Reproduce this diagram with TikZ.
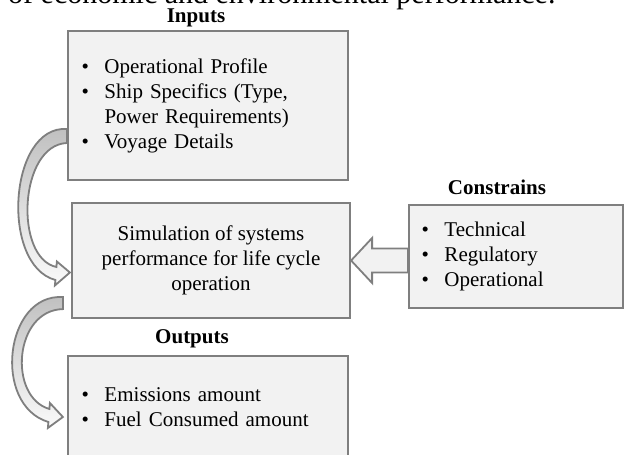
\documentclass[tikz,border=0pt]{standalone}
\usepackage{fontspec}
\setmainfont{Liberation Serif}
\usepackage{xcolor}
\usepackage{tikz}
\usetikzlibrary{positioning,calc,backgrounds}
\definecolor{gris}{HTML}{7F7F7F}
\definecolor{grisclaro}{HTML}{F2F2F2}
\definecolor{grismedio}{HTML}{BFBFBF}
\newcommand{\itm}{\makebox[23pt][l]{\textbullet}}
\newcommand{\sangria}{\hspace*{23pt}}
\tikzset{
  caja/.style={draw=gris,fill=grisclaro,line width=2.2pt,font=\fontsize{21}{25}\selectfont,inner xsep=13.5pt,inner ysep=4pt},
  lista/.style={caja,align=left},
  titulo/.style={font=\fontsize{21}{25}\selectfont\bfseries,inner sep=0pt},
  flechacurva/.style={draw=gris,line width=1.8pt,line join=miter,top color=grismedio,bottom color=grisclaro!40},
  flechabloque/.style={draw=gris,line width=1.8pt,fill=grisclaro},
}

\begin{document}
\begin{tikzpicture}[x=1pt,y=-1pt]
  \useasboundingbox (0,0) rectangle (627,455);
  \clip (0,0) rectangle (627,455);
  % texto cortado arriba
  \node[anchor=base west,inner sep=0pt,font=\fontsize{30}{36}\selectfont] (arriba) at (8,4) {of economic and environmental performance.};
  % cajas
  \node[lista,minimum width=280pt,minimum height=149pt,text width=253pt] (inp) at (208,105.5) {\itm Operational Profile\\ \itm Ship Specifics (Type,\\ \sangria Power Requirements)\\ \itm Voyage Details};
  \node[caja,align=center,minimum width=278pt,minimum height=115pt] (sim) at (211,260.5) {Simulation of systems\\performance for life cycle\\operation};
  \node[lista,minimum width=214pt,minimum height=103pt,text width=189pt,inner xsep=12.5pt] (con) at (516,256.5) {\itm Technical\\ \itm Regulatory\\ \itm Operational};
  \node[lista,minimum width=280pt,minimum height=102pt,text width=253pt] (out) at (208,407) {\itm Emissions amount\\ \itm Fuel Consumed amount};
  % titulos
  \node[titulo] (tinp) at (196,18) {Inputs};
  \node[titulo] (tcon) at (497,187) {Constrains};
  \node[titulo] (tout) at (192,339) {Outputs};
  % flechas
  \begin{scope}[on background layer]
    \coordinate (a1o) at ($(inp.west)+(0,23.5)$);
    \coordinate (a1i) at ($(inp.west)+(0,37.5)$);
    \coordinate (a1t) at ($(sim.west)+(-1,12)$);
    \path[flechacurva] (a1o) .. controls +(-58,-4) and +(-55.5,-15) .. ($(a1t)+(-14.5,7.5)$) -- ++(-0.5,5.5) -- (a1t) -- ($(a1t)+(-13,-11)$) -- ++(-0.5,5.5) .. controls +(-42.5,-9) and +(-48,2) .. (a1i) -- cycle;
    \coordinate (a2o) at ($(sim.south west)+(-8,-22)$);
    \coordinate (a2i) at ($(sim.south west)+(-8,-10)$);
    \coordinate (a2t) at ($(out.west)+(-4,10)$);
    \path[flechacurva] (a2o) .. controls +(-58,-4) and +(-56.5,-17) .. ($(a2t)+(-14.5,5)$) -- ++(-0.5,6) -- (a2t) -- ($(a2t)+(-13,-14)$) -- ++(-0.5,6) .. controls +(-41.5,-12) and +(-49,1) .. (a2i) -- cycle;
    \path[flechabloque] (sim.east) -- ++(21,-22.5) -- ++(0,10.5) -- ($(sim.east -| con.west)+(0,-12)$) -- ++(0,24) -- ($(sim.east)+(21,12)$) -- ++(0,10.5) -- cycle;
  \end{scope}
\end{tikzpicture}
\end{document}
